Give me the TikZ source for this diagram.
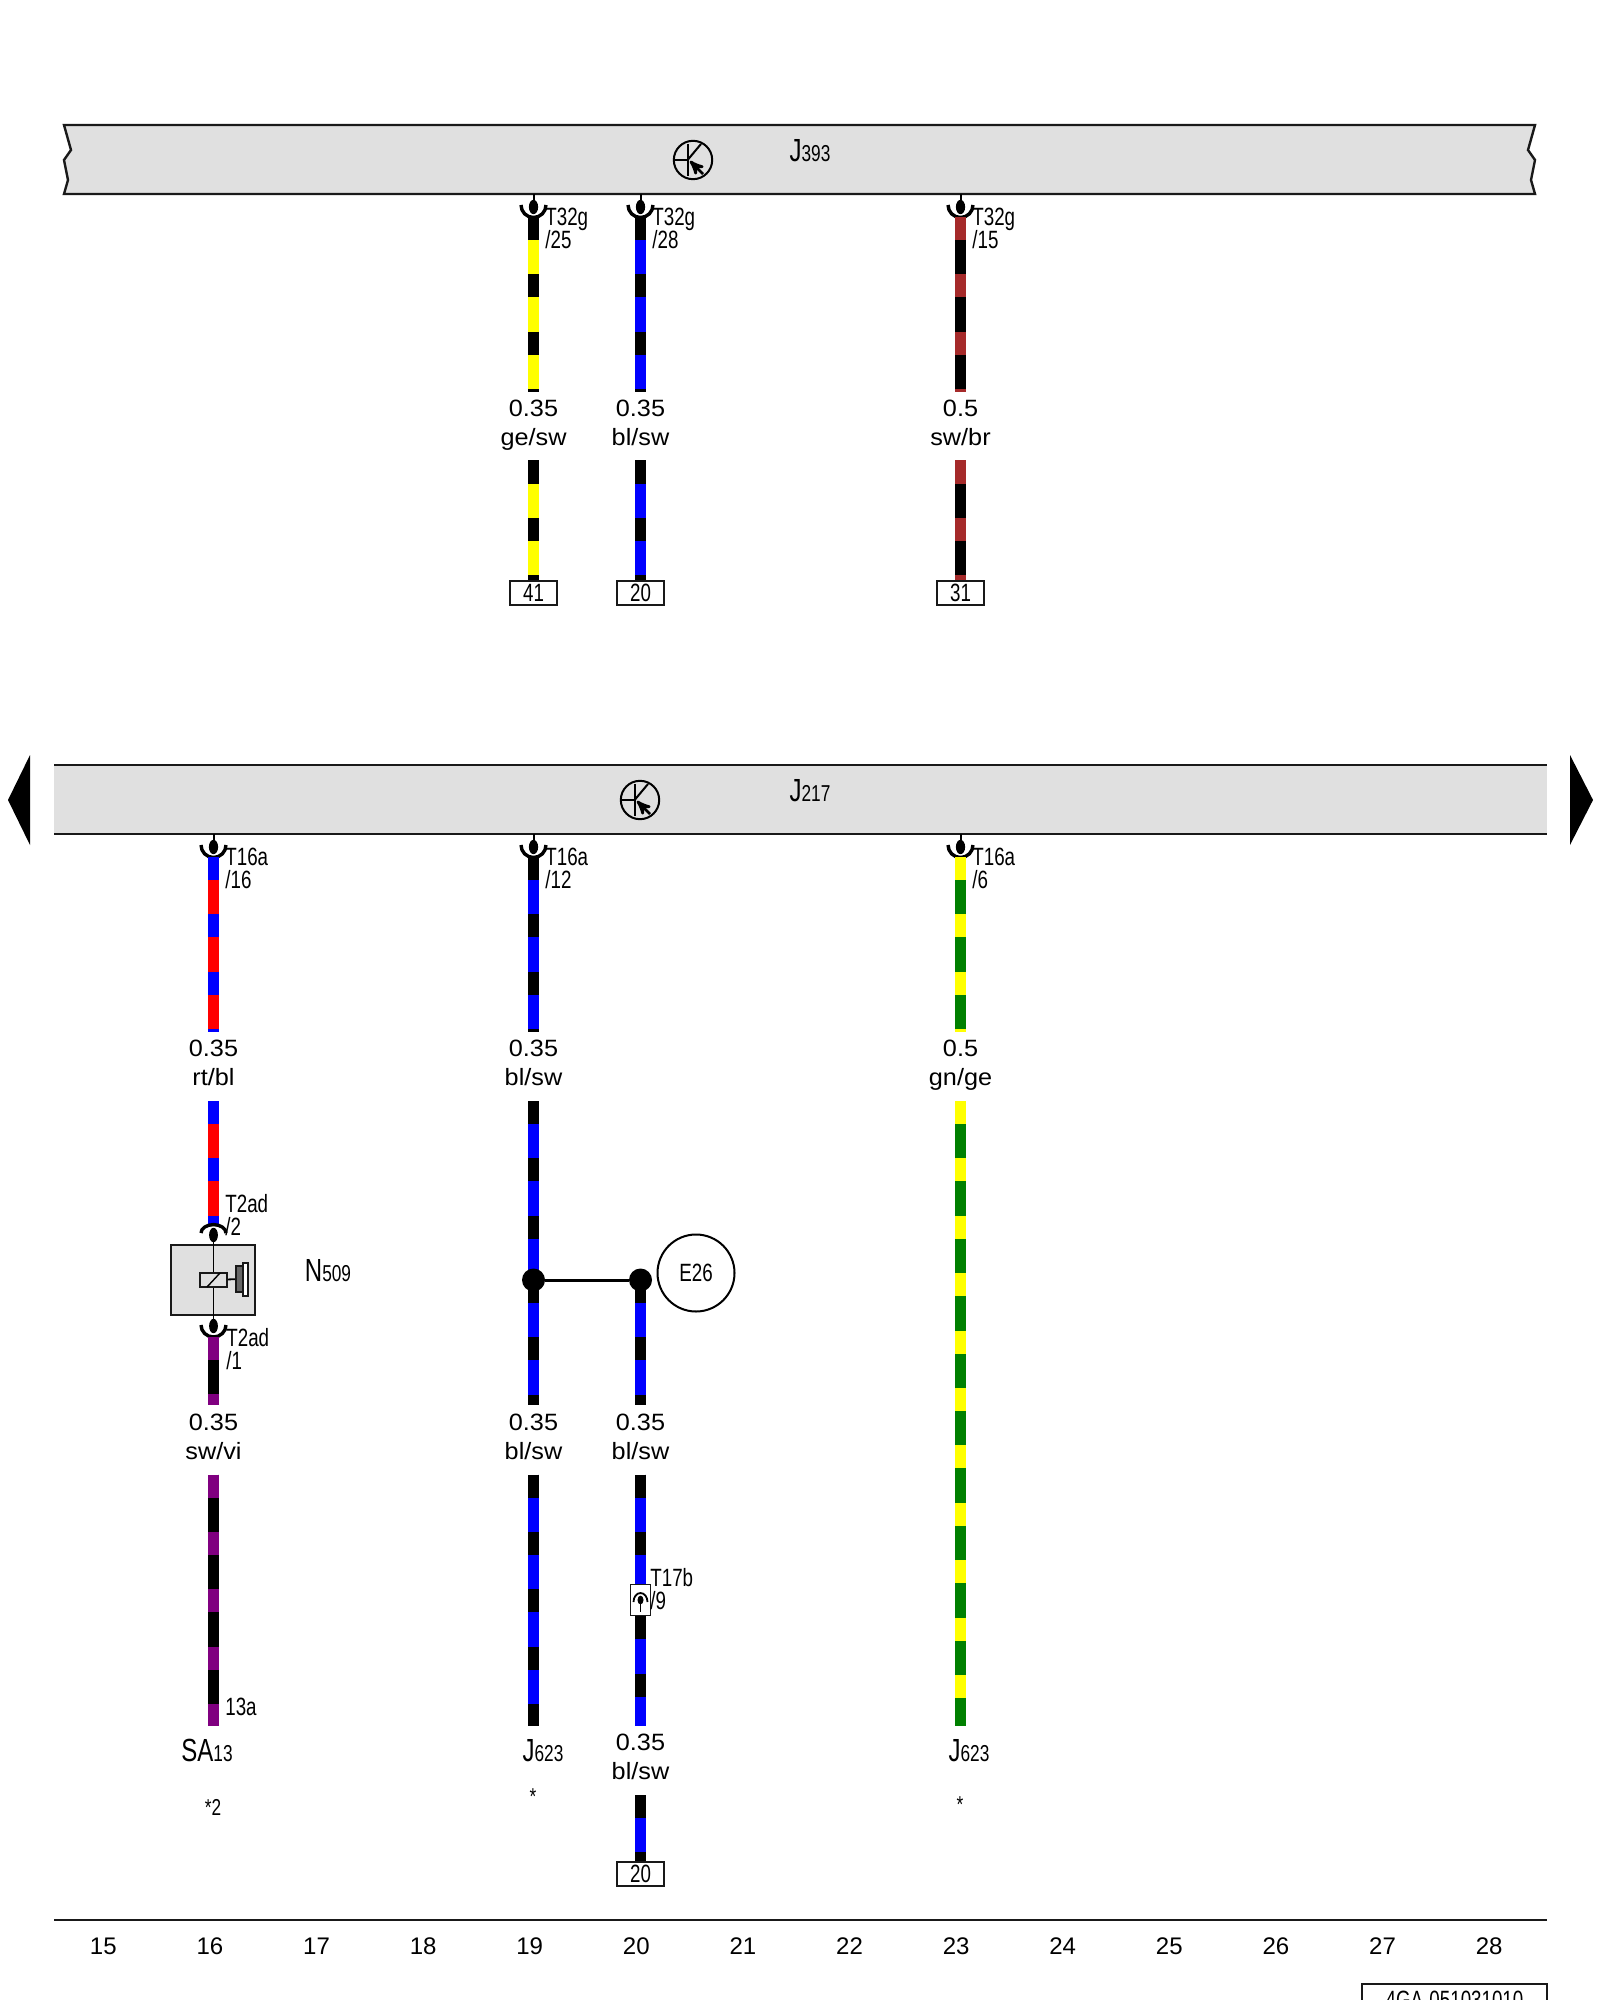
\documentclass[tikz,border=0pt]{standalone}
\usepackage{fontspec}
\setmainfont{Liberation Sans}
\newfontfamily\narrowfont[FakeStretch=0.75]{Liberation Sans}
\newfontfamily\widefont[FakeStretch=1.07]{Liberation Sans}
\usetikzlibrary{arrows}

\definecolor{wirered}{HTML}{FF0000}
\definecolor{wireblue}{HTML}{0000FF}
\definecolor{wireyellow}{HTML}{FFFF00}
\definecolor{wiregreen}{HTML}{008000}
\definecolor{wirebrown}{HTML}{A52A2A}
\definecolor{wireviolet}{HTML}{800080}
\definecolor{unitgray}{HTML}{E0E0E0}

\newcommand{\pinfont}{\narrowfont\fontsize{12.5}{11.3}\selectfont\lineskiplimit-20pt\relax}

\tikzset{
  wire/.style={line width=5.6pt},
  stripe/.style={line width=5.6pt,dash pattern=on 11.5pt off 17.2pt},
  busline/.style={line width=1.2pt,draw=black!90},
  gauge/.style={align=center,inner sep=0pt,font=\widefont\fontsize{11.8}{14.5}\selectfont},
  pinlabel/.style={align=left,inner sep=0pt,anchor=north west,font=\pinfont},
  partname/.style={inner sep=0pt,font=\narrowfont},
  refbox/.style={draw=black!90,line width=1pt,fill=white,minimum width=23.5pt,minimum height=12pt,
                 inner sep=0pt,font=\narrowfont\fontsize{12.5}{12.5}\selectfont},
  tick/.style={inner sep=0pt,font=\fontsize{12}{12}\selectfont},
  joint/.style={circle,fill=black,minimum size=11.5pt,inner sep=0pt}
}

\newcommand{\partlabel}[2]{{\fontsize{16}{16}\selectfont #1}{\fontsize{11.5}{11.5}\selectfont #2}}
% base colour first, then the colour of the short stripes
\newcommand{\wirerun}[4]{
  \draw[wire,#3] (#1) -- (#2);
  \draw[stripe,#4] (#1) -- (#2);
}
% socket hanging under a control unit
\newcommand{\socketdown}[2]{
  \begin{scope}[shift={(#1,#2)}]
    \draw[line width=1pt] (0,0) -- (0,8);
    \fill (0,13) ellipse (2.3pt and 3.6pt);
    \draw[line width=1.7pt] (-12.5,11) arc (180:360:6.25pt);
  \end{scope}
}
% transistor sign of a control unit
\newcommand{\transistor}[2]{
  \begin{scope}[shift={(#1,#2)},line width=1pt]
    \draw (0,0) circle (9.6pt);
    \draw (-19,0) -- (-5.4,0);
    \draw (-5.4,-16) -- (-5.4,16);
    \draw (-5.4,0) -- (8,-16);
    \draw[-stealth',line width=1.4pt] (10,14) -- (-3,1);
  \end{scope}
}

\begin{document}
\begin{tikzpicture}[x=0.5pt,y=-0.5pt]

  \clip (0,0) rectangle (1600,2000);

  % upper unit
  \draw[fill=unitgray,line width=1.2pt,draw=black!90] (64,125) -- (1535,125) -- (1528,150) -- (1535,160)
    -- (1531,180) -- (1535,194) -- (64,194) -- (68,180) -- (64,160) -- (71,150) -- cycle;
  \transistor{693}{160}
  \node[partname] (j393) at (810,151) {\partlabel{J}{393}};

  % lower unit
  \fill[unitgray] (54,765) rectangle (1547,834);
  \coordinate (busa) at (54,765);
  \coordinate (busb) at (1547,765);
  \coordinate (busc) at (54,834);
  \coordinate (busd) at (1547,834);
  \draw[busline] (busa) -- (busb);
  \draw[busline] (busc) -- (busd);
  \transistor{640}{800}
  \node[partname] (j217) at (810,791) {\partlabel{J}{217}};
  \fill (8,800) -- (30,755) -- (30,845) -- cycle;
  \fill (1593,800) -- (1570,755) -- (1570,845) -- cycle;

  % wires of the upper unit
  \foreach \nm/\xp/\bc/\sc/\pin/\mm/\col/\dest in {
    a/533.5/wireyellow/black/25/0.35/ge\slash sw/41,
    b/640.5/wireblue/black/28/0.35/bl\slash sw/20,
    c/960.5/black/wirebrown/15/0.5/sw\slash br/31}
  {
    \socketdown{\xp}{194}
    \coordinate (\nm top) at (\xp,217);
    \coordinate (\nm mid) at (\xp,392);
    \coordinate (\nm low) at (\xp,460.5);
    \node[refbox] (box\nm) at (\xp,593) {\dest};
    \wirerun{\nm top}{\nm mid}{\bc}{\sc}
    \wirerun{\nm low}{box\nm.north}{\bc}{\sc}
    \node[pinlabel] (pin\nm) at (\xp+11.5,208) {T32g\\/\pin};
    \node[gauge] (size\nm) at (\xp,425.3) {\mm\strut\\\col\strut};
  }

  % wires of the lower unit, upper part
  \foreach \nm/\xp/\bc/\sc/\pin/\mm/\col in {
    d/213.5/wirered/wireblue/16/0.35/rt\slash bl,
    e/533.5/wireblue/black/12/0.35/bl\slash sw,
    f/960.5/wiregreen/wireyellow/6/0.5/gn\slash ge}
  {
    \socketdown{\xp}{834}
    \coordinate (\nm top) at (\xp,857);
    \coordinate (\nm mid) at (\xp,1032);
    \coordinate (\nm low) at (\xp,1101);
    \wirerun{\nm top}{\nm mid}{\bc}{\sc}
    \node[pinlabel] (pin\nm) at (\xp+11.5,848) {T16a\\/\pin};
    \node[gauge] (size\nm) at (\xp,1065.3) {\mm\strut\\\col\strut};
  }

  % valve N509
  \coordinate (dend) at (213.5,1225);
  \wirerun{dlow}{dend}{wirered}{wireblue}
  \node[draw=black!90,line width=1pt,fill=unitgray,minimum width=42pt,minimum height=35pt,inner sep=0pt] (n509box) at (213,1280) {};
  \coordinate (coilin) at (213.5,1235);
  \coordinate (coilout) at (213.5,1326);
  \draw[line width=0.9pt] (coilin) -- (coilout);
  \node[draw=black!90,line width=0.9pt,fill=unitgray,minimum width=13.5pt,minimum height=7pt,inner sep=0pt] (coil) at (213.5,1280) {};
  \draw[line width=0.7pt] (207,1287) -- (220,1273);
  \node[draw=black!90,line width=0.8pt,fill=black!60,minimum width=3.5pt,minimum height=13pt,inner sep=0pt] (plunger) at (239.5,1279) {};
  \node[draw=black!90,line width=0.8pt,fill=white,minimum width=2.5pt,minimum height=16.5pt,inner sep=0pt] (plate) at (245.5,1279.5) {};
  \draw[line width=0.9pt] (coil) -- (plunger);
  \fill (coilin) ellipse (2.2pt and 3.6pt);
  \draw[line width=1.7pt] (201,1233) arc (180:0:6.25pt and 4.2pt);
  \fill (coilout) ellipse (2.2pt and 3.6pt);
  \draw[line width=1.7pt] (201,1325) arc (180:360:6.25pt and 6pt);
  \node[partname] (n509) at (328,1271) {\partlabel{N}{509}};
  \node[pinlabel] (pinup) at (225,1194) {T2ad\\/2};
  \node[pinlabel] (pindown) at (226,1328) {T2ad\\/1};

  % violet wire to SA13
  \coordinate (gtop) at (213.5,1337);
  \coordinate (gmid) at (213.5,1405);
  \coordinate (glow) at (213.5,1474.5);
  \coordinate (gend) at (213.5,1726);
  \wirerun{gtop}{gmid}{black}{wireviolet}
  \wirerun{glow}{gend}{black}{wireviolet}
  \node[gauge] (sizeg) at (213.5,1439.3) {0.35\strut\\sw\slash vi\strut};
  \node[partname,font=\narrowfont\fontsize{12.5}{12.5}\selectfont] (fuse) at (241,1706.6) {13a};
  \node[partname] (sa13) at (207,1750) {\partlabel{SA}{13}};
  \node[partname,font=\narrowfont\fontsize{11.5}{11.5}\selectfont] (notea) at (213,1807) {*2};

  % blue wire and branch
  \coordinate (joinap) at (533.5,1280);
  \coordinate (joinbp) at (640.5,1280);
  \coordinate (emid) at (533.5,1405);
  \coordinate (hmid) at (640.5,1405);
  \coordinate (ebot) at (533.5,1474.5);
  \coordinate (eend) at (533.5,1726);
  \wirerun{elow}{joinap}{wireblue}{black}
  \wirerun{joinap}{emid}{wireblue}{black}
  \wirerun{joinbp}{hmid}{wireblue}{black}
  \wirerun{ebot}{eend}{wireblue}{black}
  \node[joint] (joina) at (joinap) {};
  \node[joint] (joinb) at (joinbp) {};
  \draw[line width=1.5pt] (joina) -- (joinb);
  \node[circle,draw=black,line width=1pt,minimum size=38.5pt,inner sep=0pt,font=\narrowfont\fontsize{12.5}{12.5}\selectfont] (e26) at (696,1273) {E26};
  \node[gauge] (sizee) at (533.5,1439.3) {0.35\strut\\bl\slash sw\strut};
  \node[gauge] (sizeh) at (640.5,1439.3) {0.35\strut\\bl\slash sw\strut};
  \node[partname] (j623a) at (543,1751) {\partlabel{J}{623}};
  \node[partname,font=\narrowfont\fontsize{11.5}{11.5}\selectfont] (noteb) at (533,1797) {*};

  % branch through T17b
  \node[draw=black!90,line width=0.8pt,fill=white,minimum width=10pt,minimum height=15.5pt,inner sep=0pt] (t17) at (640.5,1600) {};
  \coordinate (hlow) at (640.5,1474.5);
  \coordinate (hend) at (640.5,1726);
  \wirerun{hlow}{t17.north}{wireblue}{black}
  \wirerun{t17.south}{hend}{wireblue}{black}
  \fill (640.5,1600) ellipse (1.5pt and 2.2pt);
  \draw[line width=0.8pt] (640.5,1600) -- (640.5,1612);
  \draw[line width=0.9pt] (633.5,1602) arc (180:0:3.5pt and 4.5pt);
  \node[pinlabel] (pint17) at (650,1568) {T17b\\/9};
  \node[gauge] (sizeh2) at (640.5,1759.3) {0.35\strut\\bl\slash sw\strut};
  \coordinate (hbot) at (640.5,1795);
  \node[refbox] (boxh) at (640.5,1874) {20};
  \wirerun{hbot}{boxh.north}{wireblue}{black}

  % green wire
  \coordinate (fend) at (960.5,1726);
  \wirerun{flow}{fend}{wiregreen}{wireyellow}
  \node[partname] (j623b) at (969,1751) {\partlabel{J}{623}};
  \node[partname,font=\narrowfont\fontsize{11.5}{11.5}\selectfont] (notec) at (960,1805) {*};

  % column numbers
  \coordinate (rulea) at (54,1920);
  \coordinate (ruleb) at (1547,1920);
  \draw[busline] (rulea) -- (ruleb);
  \foreach \col [count=\i from 0] in {15,...,28}
    \node[tick] (col\col) at (103.3+106.6*\i,1946) {\col};

  \node[draw=black!90,line width=1pt,minimum width=92.5pt,minimum height=16pt,inner sep=0pt,
        font=\narrowfont\fontsize{12.5}{12.5}\selectfont] (docno) at (1454.5,2000) {4GA-051031010};

\end{tikzpicture}
\end{document}
